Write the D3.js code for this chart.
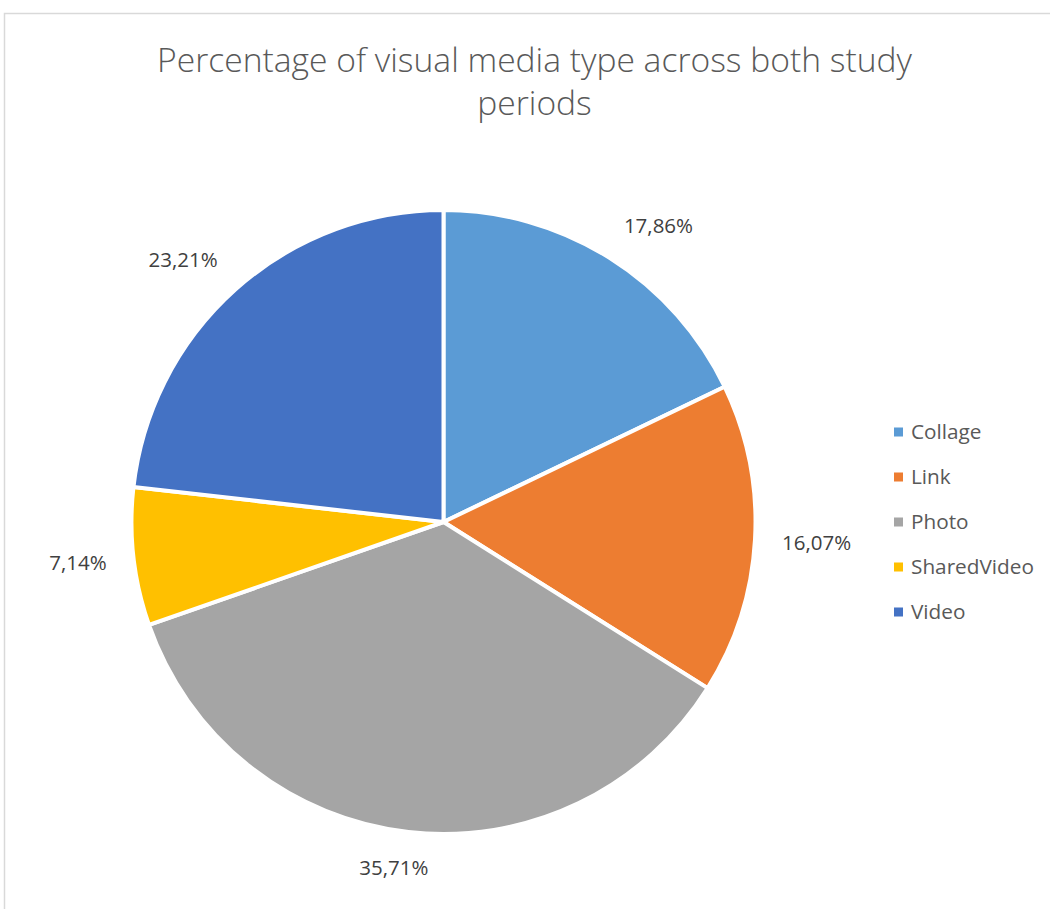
<!DOCTYPE html>
<html>
<head>
<meta charset="utf-8">
<script src="https://cdn.jsdelivr.net/npm/d3@7/dist/d3.min.js"></script>
<style>
  html, body { margin: 0; padding: 0; background: #fff; }
  svg { display: block; }
  text { font-family: "Open Sans", "Liberation Sans", sans-serif; }
</style>
</head>
<body>
<svg id="chart" width="1050" height="909"></svg>
<script>
// Share of each visual media type (percent)
const categories = ["Collage", "Link", "Photo", "SharedVideo", "Video"];
const values = [17.86, 16.07, 35.71, 7.14, 23.21];
const valueLabels = ["17,86%", "16,07%", "35,71%", "7,14%", "23,21%"];
const colors = ["#5B9BD5", "#ED7D31", "#A5A5A5", "#FFC000", "#4472C4"];
const titleLines = ["Percentage of visual media type across both study", "periods"];

const svg = d3.select("#chart");
const W = 1050, H = 909;

// chart area frame
svg.append("rect")
  .attr("x", 4.5).attr("y", 13.5)
  .attr("width", W + 20).attr("height", H + 20)
  .attr("fill", "#fff")
  .attr("stroke", "#d9d9d9").attr("stroke-width", 1.5);

// title, fitted to its target width
const title = svg.append("text")
  .attr("text-anchor", "middle")
  .attr("fill", "#595959")
  .style("font-weight", 300);
title.selectAll("tspan").data(titleLines).join("tspan")
  .attr("x", 534.5)
  .attr("y", (d, i) => 72 + i * 43)
  .text(d => d);
title.style("font-size", "100px");
const firstLen = title.select("tspan").node().getComputedTextLength();
title.style("font-size", (100 * 755 / firstLen) + "px");

// pie
const cx = 443.5, cy = 522, r = 312;
const pie = d3.pie().sort(null).value(d => d.value);
const arcs = pie(categories.map((c, i) => ({ name: c, value: values[i], label: valueLabels[i], color: colors[i] })));
const arc = d3.arc().innerRadius(0).outerRadius(r);

const g = svg.append("g").attr("transform", `translate(${cx},${cy})`);
g.selectAll("path").data(arcs).join("path")
  .attr("d", arc)
  .attr("fill", d => d.data.color)
  .attr("stroke", "#fff")
  .attr("stroke-width", 4)
  .attr("stroke-linejoin", "round");

// data labels placed just outside the rim
const labelFont = 20.5;
const R0 = r + 27;
const clamp = v => Math.max(-1, Math.min(1, v));
g.selectAll("text.val").data(arcs).join("text")
  .attr("class", "val")
  .attr("fill", "#404040")
  .style("font-size", labelFont + "px")
  .attr("text-anchor", "middle")
  .text(d => d.data.label)
  .each(function(d) {
    const a = (d.startAngle + d.endAngle) / 2;
    const s = Math.sin(a), c = Math.cos(a);
    const w = this.getComputedTextLength();
    const h = labelFont * 0.9;
    const x = s * R0 + (w / 2) * clamp(s * 3);
    const y = -c * R0 - (h / 2) * clamp(c * 3);
    d3.select(this).attr("x", x).attr("y", y + labelFont * 0.36);
  });

// legend
const legend = svg.append("g").attr("transform", "translate(894,0)");
const rows = legend.selectAll("g").data(arcs).join("g")
  .attr("transform", (d, i) => `translate(0,${432 + i * 45})`);
rows.append("rect")
  .attr("x", 0).attr("y", -4.5)
  .attr("width", 9).attr("height", 9)
  .attr("fill", d => d.data.color);
const legendText = rows.append("text")
  .attr("x", 17).attr("y", 0)
  .attr("dy", "0.36em")
  .attr("fill", "#595959")
  .style("font-size", "100px")
  .text(d => d.data.name);
const longest = d3.max(legendText.nodes(), n => n.getComputedTextLength());
legendText.style("font-size", (100 * 123 / longest) + "px");
</script>
</body>
</html>
